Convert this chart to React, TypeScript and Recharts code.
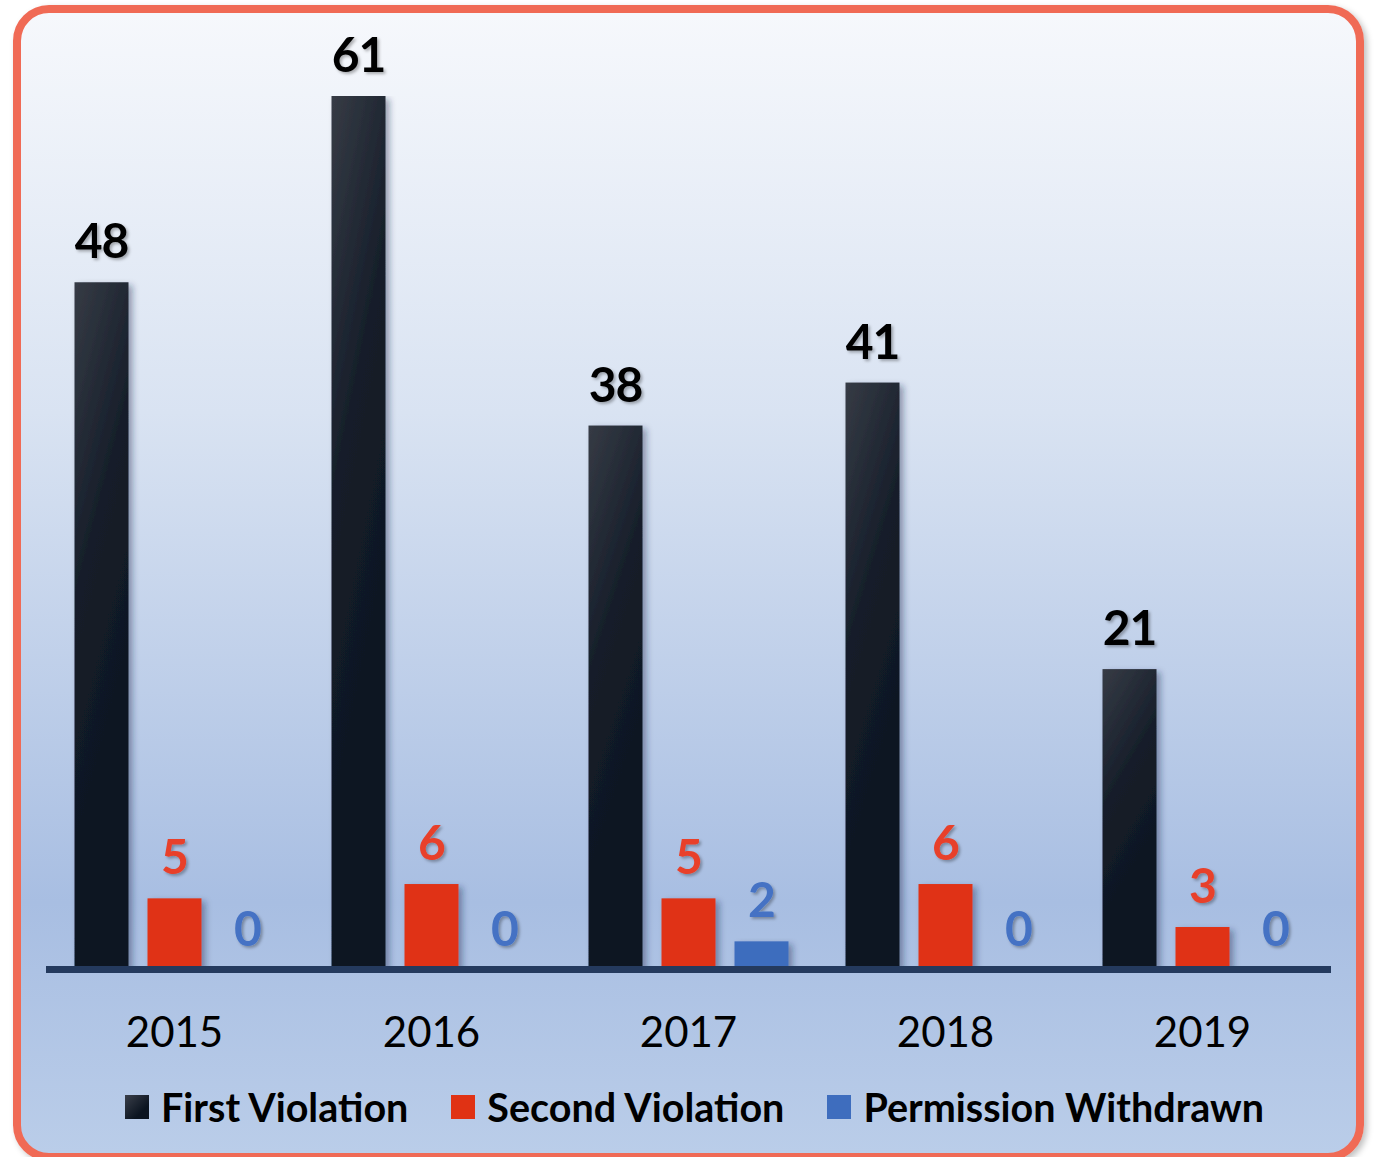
import React from "react";
import { BarChart, Bar, XAxis, YAxis, Legend, LabelList } from "recharts";

const years = ["2015", "2016", "2017", "2018", "2019"];
const firstViolation = [48, 61, 38, 41, 21];
const secondViolation = [5, 6, 5, 6, 3];
const permissionWithdrawn = [0, 0, 2, 0, 0];

const data = years.map((year, i) => ({
  year,
  first: firstViolation[i],
  second: secondViolation[i],
  withdrawn: permissionWithdrawn[i],
}));

const FONT = "Lato, 'Open Sans', sans-serif";

const legendItems = [
  { label: "First Violation", swatch: "linear-gradient(135deg, #3a3f4a 0%, #0b1420 70%)" },
  { label: "Second Violation", swatch: "#e03214" },
  { label: "Permission Withdrawn", swatch: "#3e6dbe" },
];

// custom bar so each rect gets the drop shadow
function ShadowBar(props: any) {
  const { x, y, width, height, fill } = props;
  if (!height || height <= 0) return <g />;
  return <rect x={x} y={y} width={width} height={height} fill={fill} filter="url(#barShadow)" />;
}

const makeLabel = (color: string) => (props: any) => {
  const x = Number(props.x);
  const y = Number(props.y);
  const width = Number(props.width);
  return (
    <text
      x={x + width / 2}
      y={y - 24}
      textAnchor="middle"
      fill={color}
      fontFamily={FONT}
      fontWeight={700}
      fontSize={48}
      letterSpacing={-1}
      filter="url(#labelShadow)"
    >
      {props.value}
    </text>
  );
};

function YearTick({ x, y, payload }: any) {
  return (
    <text x={x} y={y + 77} textAnchor="middle" fill="#000" fontFamily={FONT} fontSize={42}>
      {payload.value}
    </text>
  );
}

function LegendContent() {
  return (
    <div
      style={{
        height: 50,
        paddingLeft: 12,
        boxSizing: "border-box",
        display: "flex",
        justifyContent: "center",
        alignItems: "center",
        gap: 43,
        fontFamily: FONT,
        fontWeight: 700,
        fontSize: 39.5,
        color: "#000",
      }}
    >
      {legendItems.map((it) => (
        <div key={it.label} style={{ display: "flex", alignItems: "center", gap: 12 }}>
          <span style={{ width: 24, height: 24, background: it.swatch, display: "inline-block" }} />
          <span style={{ lineHeight: "38px" }}>{it.label}</span>
        </div>
      ))}
    </div>
  );
}

export default function App() {
  return (
    <div style={{ position: "absolute", left: 0, top: 0, width: 1380, height: 1157, overflow: "hidden", background: "#fff" }}>
      <div
        style={{
          position: "absolute",
          left: 13,
          top: 5,
          width: 1351,
          height: 1156,
          boxSizing: "border-box",
          border: "8px solid #f06a55",
          borderRadius: 36,
          background: "linear-gradient(180deg, #f6f8fc 0%, #d9e3f2 35%, #a8bee2 78%, #bacde9 100%)",
          boxShadow: "3px 3px 6px rgba(0,0,0,0.25)",
        }}
      />
      <div style={{ position: "absolute", left: 0, top: 0 }}>
        <BarChart
          width={1380}
          height={1157}
          data={data}
          margin={{ top: 96, right: 49, bottom: 25, left: 46 }}
          barCategoryGap={28.5}
          barGap={19}
        >
          <defs>
            <linearGradient id="darkBar" x1="0" y1="0" x2="0.3" y2="1">
              <stop offset="0%" stopColor="#363b45" />
              <stop offset="45%" stopColor="#151d29" />
              <stop offset="100%" stopColor="#0b1420" />
            </linearGradient>
            <filter id="barShadow" x="-30%" y="-10%" width="170%" height="130%">
              <feDropShadow dx="4" dy="3" stdDeviation="3" floodColor="#1c2c4c" floodOpacity="0.4" />
            </filter>
            <filter id="labelShadow" x="-20%" y="-20%" width="150%" height="150%">
              <feDropShadow dx="2" dy="2" stdDeviation="1.5" floodColor="#000" floodOpacity="0.3" />
            </filter>
          </defs>
          <YAxis hide type="number" domain={[0, 61]} allowDataOverflow />
          <Legend verticalAlign="bottom" content={<LegendContent />} />
          <Bar dataKey="first" name="First Violation" fill="url(#darkBar)" shape={<ShadowBar />} isAnimationActive={false}>
            <LabelList dataKey="first" content={makeLabel("#000")} />
          </Bar>
          <Bar dataKey="second" name="Second Violation" fill="#e03214" shape={<ShadowBar />} isAnimationActive={false}>
            <LabelList dataKey="second" content={makeLabel("#e8402a")} />
          </Bar>
          <Bar dataKey="withdrawn" name="Permission Withdrawn" fill="#3e6dbe" shape={<ShadowBar />} isAnimationActive={false}>
            <LabelList dataKey="withdrawn" content={makeLabel("#4472c4")} />
          </Bar>
          <XAxis
            dataKey="year"
            height={112}
            tickLine={false}
            tickSize={0}
            tickMargin={0}
            tick={<YearTick />}
            axisLine={{ stroke: "#243a5e", strokeWidth: 7, transform: "translate(0,-0.5)" }}
          />
        </BarChart>
      </div>
    </div>
  );
}
